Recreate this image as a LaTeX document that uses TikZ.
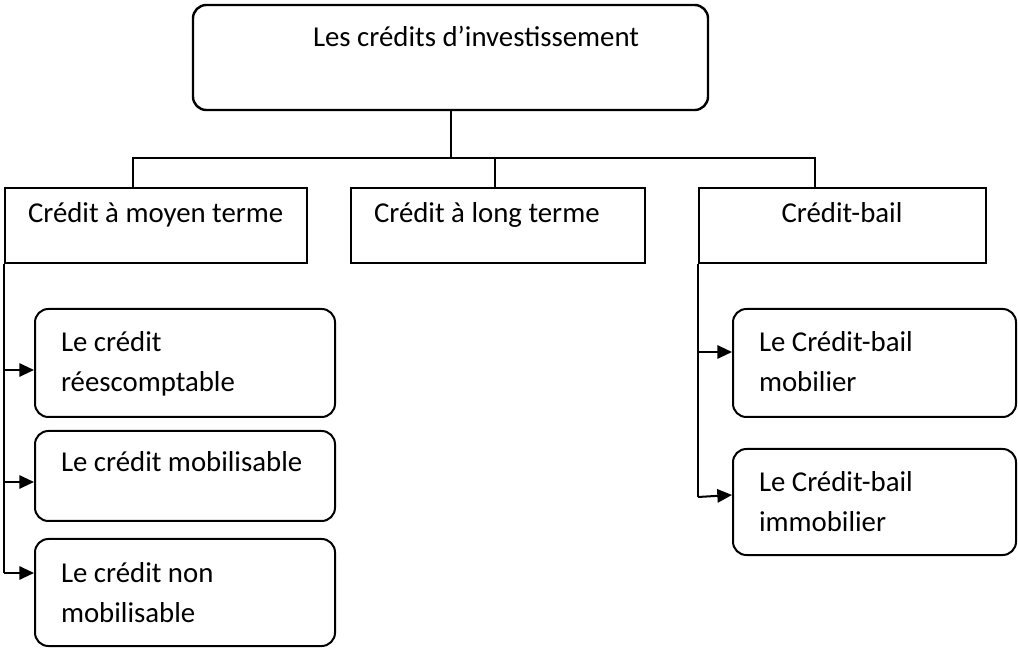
\documentclass[tikz,border=0pt]{standalone}
\usepackage{fontspec}
\setmainfont{Carlito}
\usetikzlibrary{arrows.meta,fit}
\begin{document}
\begin{tikzpicture}[x=0.75pt,y=-0.75pt,
  line width=1.5pt,
  sqbox/.style={draw, rectangle, inner sep=0pt},
  rbox/.style={draw, rectangle, rounded corners=10pt, inner sep=0pt},
  lbl/.style={font=\fontsize{21.6}{30}\selectfont, anchor=base west, inner sep=0pt, align=left},
  arr/.style={-{Triangle[length=11pt,width=10pt]}}
]
\useasboundingbox (0,0) rectangle (1018,648);
% boxes
\node[rbox, line width=1.8pt, fit={(193,5)(708,110)}] (top) {};
\node[sqbox, fit={(5,188)(307,263)}] (b1) {};
\node[sqbox, fit={(351,188)(645,263)}] (b2) {};
\node[sqbox, fit={(699,188)(986,263)}] (b3) {};
\node[rbox, fit={(35,309)(335,417)}] (sa) {};
\node[rbox, fit={(35,431)(335,521)}] (sb) {};
\node[rbox, fit={(35,539)(335,646)}] (sc) {};
\node[rbox, fit={(733,309)(1016,417)}] (ra) {};
\node[rbox, fit={(733,449)(1016,555)}] (rb) {};
% texts
\node[lbl] (ttop) at (312,47) {Les crédits d’investissement};
\node[lbl] (t1) at (27,223) {Crédit à moyen terme};
\node[lbl] (t2) at (373,223) {Crédit à long terme};
\node[lbl, anchor=base] (t3) at (842,223) {Crédit-bail};
\node[lbl] (tsa) at (60,392) {Le crédit\\réescomptable};
\node[lbl] (tsb) at (60,472) {Le crédit mobilisable};
\node[lbl] (tsc) at (60,622) {Le crédit non\\mobilisable};
\node[lbl] (tra) at (758,392) {Le Crédit-bail\\mobilier};
\node[lbl] (trb) at (758,532) {Le Crédit-bail\\immobilier};
% connector coordinates
\coordinate (hl) at (133,158);
\coordinate (hm) at (495,158);
\coordinate (hr) at (815,158);
\coordinate (ya) at (0,370);
\coordinate (yb) at (0,482);
\coordinate (yc) at (0,573);
\coordinate (yra) at (0,352);
\coordinate (yrb) at (0,497);
\coordinate (yrbe) at (0,495);
% connectors
\draw (top.south) -- (top.south |- hl);
\draw (hl |- b1.north) -- (hl) -- (hr) -- (hr |- b3.north);
\draw (hm) -- (hm |- b2.north);
\draw (b1.south west) -- (b1.south west |- yc);
\draw[arr] (b1.south west |- ya) -- (sa.west |- ya);
\draw[arr] (b1.south west |- yb) -- (sb.west |- yb);
\draw[arr] (b1.south west |- yc) -- (sc.west |- yc);
\draw (b3.south west) -- (b3.south west |- yrb);
\draw[arr] (b3.south west |- yra) -- (ra.west |- yra);
\draw[arr] (b3.south west |- yrb) -- (rb.west |- yrbe);
\end{tikzpicture}
\end{document}
